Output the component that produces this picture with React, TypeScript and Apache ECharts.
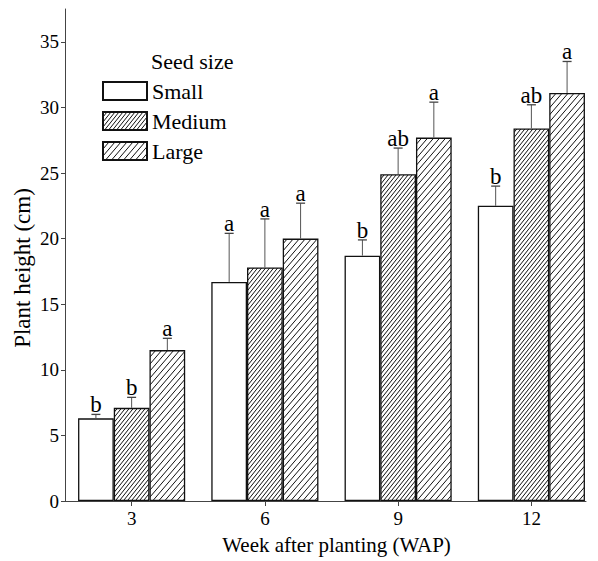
import React, { useEffect, useRef } from 'react';
import * as echarts from 'echarts';

const WEEKS = ['3', '6', '9', '12'];
const SERIES_NAMES = ['Small', 'Medium', 'Large'];
const SMALL = [6.3, 16.7, 18.7, 22.5];
const MEDIUM = [7.1, 17.8, 24.9, 28.4];
const LARGE = [11.5, 20.0, 27.7, 31.1];
const SMALL_ERR = [0.3, 3.7, 1.2, 1.5];
const MEDIUM_ERR = [0.8, 3.7, 2.0, 1.8];
const LARGE_ERR = [0.9, 2.7, 2.7, 2.4];
const SMALL_LETTERS = ['b', 'a', 'b', 'b'];
const MEDIUM_LETTERS = ['b', 'a', 'ab', 'ab'];
const LARGE_LETTERS = ['a', 'a', 'a', 'a'];
const Y_TICKS = [0, 5, 10, 15, 20, 25, 30, 35];

const FONT = '"Liberation Serif", "Times New Roman", serif';
const BAR_FRAC = 0.268;

function hatch(w: number, h: number, lw: number) {
  const c = document.createElement('canvas');
  c.width = w;
  c.height = h;
  const ctx = c.getContext('2d')!;
  ctx.fillStyle = '#fff';
  ctx.fillRect(0, 0, w, h);
  ctx.strokeStyle = '#111';
  ctx.lineWidth = lw;
  for (const k of [-1, 0, 1]) {
    ctx.beginPath();
    ctx.moveTo(k * w, h);
    ctx.lineTo(k * w + w, 0);
    ctx.stroke();
  }
  return c;
}

export default function App() {
  const ref = useRef<HTMLDivElement>(null);
  useEffect(() => {
    if (!ref.current) return;
    const chart = echarts.init(ref.current, null, { renderer: 'svg' });
    const vals = [SMALL, MEDIUM, LARGE];
    const errs = [SMALL_ERR, MEDIUM_ERR, LARGE_ERR];
    const letters = [SMALL_LETTERS, MEDIUM_LETTERS, LARGE_LETTERS];
    const errData: number[][] = [];
    const errLetters: string[] = [];
    for (let s = 0; s < 3; s++) {
      for (let i = 0; i < WEEKS.length; i++) {
        errData.push([i, s, vals[s][i], errs[s][i]]);
        errLetters.push(letters[s][i]);
      }
    }
    const medPat = hatch(4, 5, 1);
    const lrgPat = hatch(6, 7, 1);
    const fills: any[] = [
      '#fff',
      { image: medPat, repeat: 'repeat', imageWidth: 4, imageHeight: 5 },
      { image: lrgPat, repeat: 'repeat', imageWidth: 6, imageHeight: 7 },
    ];
    const barSeries = SERIES_NAMES.map((name, s) => ({
      type: 'bar',
      name,
      data: vals[s],
      barWidth: BAR_FRAC * 100 + '%',
      barGap: '0%',
      xAxisIndex: 0,
      yAxisIndex: 0,
      itemStyle: { color: fills[s], borderColor: '#111', borderWidth: 1.3 },
      z: 2,
    }));
    chart.setOption({
      animation: false,
      backgroundColor: '#fff',
      title: {
        text: 'Seed size',
        left: 151,
        top: 50,
        padding: 0,
        textStyle: { fontFamily: FONT, fontSize: 22, fontWeight: 'normal', color: '#000' },
      },
      legend: {
        orient: 'vertical',
        left: 102,
        top: 80,
        padding: 0,
        itemWidth: 44,
        itemHeight: 18,
        itemGap: 8,
        icon: 'rect',
        data: SERIES_NAMES,
        textStyle: { fontFamily: FONT, fontSize: 22, color: '#000' },
      },
      graphic: [
        {
          type: 'text',
          x: 22,
          y: 268,
          rotation: Math.PI / 2,
          style: {
            text: 'Plant height (cm)',
            fontFamily: FONT,
            fontSize: 23,
            fill: '#000',
            align: 'center',
            verticalAlign: 'middle',
          },
        },
      ],
      grid: [
        { left: 65, right: 0, top: 9, bottom: 60 },
        { left: 65, right: 12, top: 9, bottom: 60 },
      ],
      xAxis: [
        {
          type: 'category',
          gridIndex: 0,
          data: WEEKS,
          axisLine: { show: false },
          axisTick: { show: true, alignWithLabel: true, length: 5, lineStyle: { color: '#444' } },
          axisLabel: { fontFamily: FONT, fontSize: 19, color: '#000', margin: 8 },
          name: 'Week after planting (WAP)',
          nameLocation: 'middle',
          nameGap: 33,
          nameTextStyle: { fontFamily: FONT, fontSize: 21, color: '#000', padding: [0, 0, 0, 10] },
        },
        {
          type: 'value',
          gridIndex: 1,
          min: 0,
          max: 1,
          axisLine: { show: true, onZero: false, lineStyle: { color: '#444', width: 1 } },
          axisTick: { show: false },
          axisLabel: { show: false },
          splitLine: { show: false },
        },
      ],
      yAxis: [
        {
          type: 'value',
          gridIndex: 0,
          min: 0,
          max: 37.5,
          interval: 5,
          axisLine: { show: true, lineStyle: { color: '#444', width: 1 } },
          axisTick: { show: true, length: 4, customValues: Y_TICKS, lineStyle: { color: '#444' } },
          axisLabel: { fontFamily: FONT, fontSize: 19, color: '#000', margin: 6, customValues: Y_TICKS },
          splitLine: { show: false },
        },
        { type: 'value', gridIndex: 1, min: 0, max: 1, show: false },
      ],
      series: [
        ...barSeries,
        {
          type: 'custom',
          xAxisIndex: 0,
          yAxisIndex: 0,
          z: 5,
          data: errData,
          renderItem: (params: any, api: any) => {
            const i = api.value(0);
            const s = api.value(1);
            const v = api.value(2);
            const e = api.value(3);
            const band = api.size([1, 0])[0];
            const bw = band * BAR_FRAC;
            const base = api.coord([i, v]);
            const top = api.coord([i, v + e]);
            const x = base[0] + (s - 1) * bw;
            return {
              type: 'group',
              children: [
                { type: 'line', shape: { x1: x, y1: base[1], x2: x, y2: top[1] }, style: { stroke: '#555', lineWidth: 1 } },
                { type: 'line', shape: { x1: x - 4.5, y1: top[1], x2: x + 4.5, y2: top[1] }, style: { stroke: '#444', lineWidth: 1.3 } },
                {
                  type: 'text',
                  x,
                  y: top[1] + 2,
                  style: {
                    text: errLetters[params.dataIndex],
                    fill: '#000',
                    fontFamily: FONT,
                    fontSize: 23,
                    align: 'center',
                    verticalAlign: 'bottom',
                  },
                },
              ],
            };
          },
        },
      ],
    });
    return () => chart.dispose();
  }, []);
  return <div ref={ref} style={{ position: 'absolute', left: 0, top: 0, width: 598, height: 561 }} />;
}
